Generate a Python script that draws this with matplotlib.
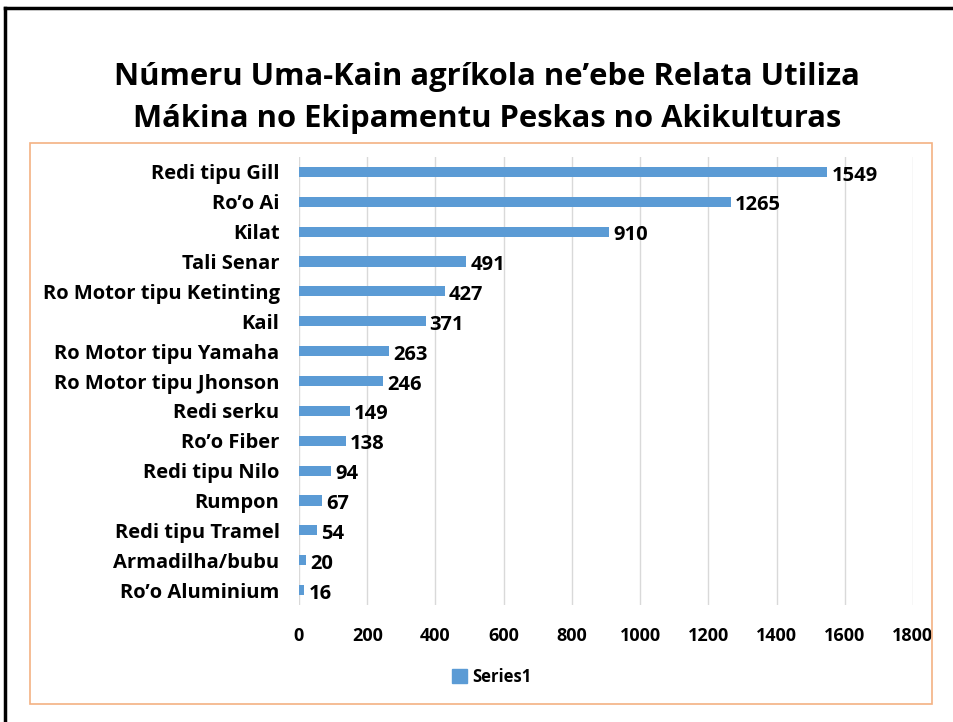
import matplotlib.pyplot as plt
from matplotlib.patches import Rectangle
from matplotlib.lines import Line2D

plt.rcParams['font.family'] = ['Open Sans', 'DejaVu Sans']

categories = [
    "Redi tipu Gill", "Ro\u2019o Ai", "Kilat", "Tali Senar",
    "Ro Motor tipu Ketinting", "Kail", "Ro Motor tipu Yamaha",
    "Ro Motor tipu Jhonson", "Redi serku", "Ro\u2019o Fiber",
    "Redi tipu Nilo", "Rumpon", "Redi tipu Tramel", "Armadilha/bubu",
    "Ro\u2019o Aluminium",
]
values = [1549, 1265, 910, 491, 427, 371, 263, 246, 149, 138, 94, 67, 54, 20, 16]
xticks = [0, 200, 400, 600, 800, 1000, 1200, 1400, 1600, 1800]

BAR = "#5B9BD5"
W, H = 954, 722

fig = plt.figure(figsize=(W / 100, H / 100), dpi=100)

# slide frame and chart border
fig.add_artist(Line2D([5 / W, 5 / W], [0, 1 - 8 / H], color="black", lw=2.5))
fig.add_artist(Line2D([5 / W, 1], [1 - 8 / H, 1 - 8 / H], color="black", lw=2.5))
fig.add_artist(Rectangle((30 / W, 1 - 704 / H), 902 / W, 561 / H,
                         fill=False, edgecolor="#F4B183", lw=1.2))

fig.text(487 / W, 1 - 77 / H, "N\u00fameru Uma-Kain agr\u00edkola ne\u2019ebe Relata Utiliza",
         ha="center", va="center", fontsize=22.3, fontweight="bold")
fig.text(487 / W, 1 - 119 / H, "M\u00e1kina no Ekipamentu Peskas no Akikulturas",
         ha="center", va="center", fontsize=22.3, fontweight="bold")

ax = fig.add_axes([299 / W, 1 - 605 / H, 614 / W, 448 / H])
y = list(range(len(categories)))
ax.barh(y, values, height=0.34, color=BAR, zorder=3)
for yi, v in zip(y, values):
    ax.text(v + 12, yi + 0.12, str(v), va="center", ha="left",
            fontsize=14.5, fontweight="bold")

ax.set_xlim(0, 1800)
ax.set_ylim(len(categories) - 0.5, -0.5)
ax.set_yticks(y)
ax.set_yticklabels(categories, fontsize=14.5, fontweight="bold")
ax.set_xticks(xticks)
ax.set_xticklabels([str(t) for t in xticks], fontsize=13, fontweight="bold")
ax.tick_params(axis="both", length=0)
ax.tick_params(axis="x", pad=16)
ax.tick_params(axis="y", pad=14)
ax.grid(axis="x", color="#D9D9D9", lw=1, zorder=0)
for s in ax.spines.values():
    s.set_visible(False)

handle = Rectangle((0, 0), 1, 1, color=BAR)
fig.legend([handle], ["Series1"], loc="center", bbox_to_anchor=(492 / W, 1 - 677 / H),
           frameon=False, prop={"size": 12, "weight": "bold"},
           handlelength=0.9, handleheight=0.9, handletextpad=0.3)

fig.savefig("out.png", dpi=100)
